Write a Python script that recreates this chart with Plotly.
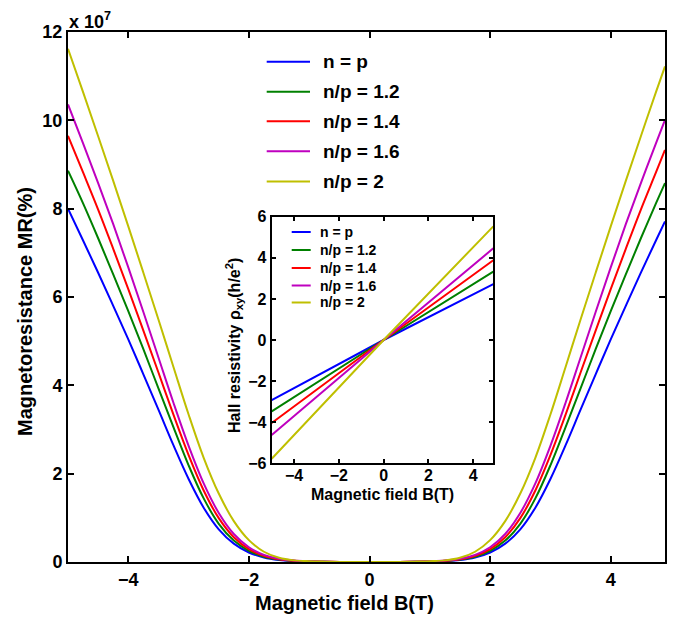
import plotly.graph_objects as go

W, H = 678, 618
ML, MR_, MT, MB = 68, 13, 32, 56

# ---------------- data ----------------
field_B = [-5, -4.75, -4.5, -4.25, -4, -3.75, -3.5, -3.25, -3, -2.75, -2.5, -2.25, -2, -1.75,
           -1.5, -1.25, -1, -0.75, -0.5, -0.25, 0,
           0.25, 0.5, 0.75, 1, 1.25, 1.5, 1.75, 2, 2.25, 2.5, 2.75, 3, 3.25, 3.5, 3.75, 4,
           4.25, 4.5, 4.75, 4.9]
# magnetoresistance, in units of 1e7 %
mr_n_eq_p = [8.0, 7.28, 6.55, 5.8, 5.04, 4.25, 3.45, 2.64, 1.88, 1.23, 0.74, 0.415, 0.215, 0.102,
             0.046, 0.02, 0.01, 0.004, 0.001, 0.0, 0.0,
             0.0, 0.001, 0.004, 0.01, 0.02, 0.046, 0.102, 0.215, 0.415, 0.74, 1.23, 1.88, 2.64,
             3.45, 4.25, 5.04, 5.8, 6.55, 7.28, 7.71]
mr_np_12 = [8.86, 8.12, 7.33, 6.51, 5.68, 4.82, 3.93, 3.05, 2.19, 1.44, 0.865, 0.484, 0.253, 0.12,
            0.054, 0.024, 0.012, 0.005, 0.001, 0.0, 0.0,
            0.0, 0.001, 0.005, 0.012, 0.024, 0.054, 0.12, 0.253, 0.484, 0.865, 1.44, 2.19, 3.05,
            3.93, 4.82, 5.68, 6.51, 7.33, 8.12, 8.58]
mr_np_14 = [9.65, 8.82, 7.98, 7.09, 6.18, 5.24, 4.29, 3.33, 2.42, 1.62, 0.993, 0.562, 0.293, 0.14,
            0.063, 0.028, 0.014, 0.006, 0.001, 0.0, 0.0,
            0.0, 0.001, 0.006, 0.014, 0.028, 0.063, 0.14, 0.293, 0.562, 0.993, 1.62, 2.42, 3.33,
            4.29, 5.24, 6.18, 7.09, 7.98, 8.82, 9.33]
mr_np_16 = [10.36, 9.48, 8.58, 7.65, 6.67, 5.66, 4.63, 3.6, 2.63, 1.78, 1.11, 0.633, 0.333, 0.161,
            0.072, 0.032, 0.016, 0.007, 0.001, 0.0, 0.0,
            0.0, 0.001, 0.007, 0.016, 0.032, 0.072, 0.161, 0.333, 0.633, 1.11, 1.78, 2.63, 3.6,
            4.63, 5.66, 6.67, 7.65, 8.58, 9.48, 10.01]
mr_np_2 = [11.62, 10.64, 9.64, 8.63, 7.6, 6.55, 5.49, 4.41, 3.34, 2.36, 1.55, 0.926, 0.495, 0.232,
           0.095, 0.037, 0.018, 0.008, 0.002, 0.0, 0.0,
           0.0, 0.002, 0.008, 0.018, 0.037, 0.095, 0.232, 0.495, 0.926, 1.55, 2.36, 3.34, 4.41,
           5.49, 6.55, 7.6, 8.63, 9.64, 10.64, 11.22]

hall_B = [-5, 0, 4.9]
hall_n_eq_p = [-2.92, 0, 2.72]
hall_np_12 = [-3.47, 0, 3.33]
hall_np_14 = [-4.04, 0, 3.88]
hall_np_16 = [-4.62, 0, 4.46]
hall_np_2 = [-5.78, 0, 5.53]

labels = ["n = p", "n/p = 1.2", "n/p = 1.4", "n/p = 1.6", "n/p = 2"]
colors = ["#0000ff", "#008000", "#ff0000", "#bf00bf", "#bfbf00"]
main_x_ticks = [-4, -2, 0, 2, 4]
main_x_ticklabels = ["−4", "−2", "0", "2", "4"]
main_y_ticks = [0, 2, 4, 6, 8, 10, 12]
main_y_ticklabels = ["0", "2", "4", "6", "8", "10", "12"]
inset_x_ticks = [-4, -2, 0, 2, 4]
inset_x_ticklabels = ["−4", "−2", "0", "2", "4"]
inset_y_ticks = [-6, -4, -2, 0, 2, 4, 6]
inset_y_ticklabels = ["−6", "−4", "−2", "0", "2", "4", "6"]

mr_series = [mr_n_eq_p, mr_np_12, mr_np_14, mr_np_16, mr_np_2]
hall_series = [hall_n_eq_p, hall_np_12, hall_np_14, hall_np_16, hall_np_2]

# ---------------- helpers (pixel -> paper) ----------------
PW = W - ML - MR_
PH = H - MT - MB


def px(x):
    return (x - ML) / PW


def py(y):
    return (H - MB - y) / PH


def bold(lst):
    return ["<b>" + s + "</b>" for s in lst]


FONT = "Liberation Sans, Arial, sans-serif"

fig = go.Figure()
for lab, col, ys in zip(labels, colors, mr_series):
    fig.add_trace(go.Scatter(x=field_B, y=ys, mode="lines", name=lab,
                             line=dict(color=col, width=2, shape="spline", smoothing=1),
                             showlegend=False, xaxis="x", yaxis="y"))
for lab, col, ys in zip(labels, colors, hall_series):
    fig.add_trace(go.Scatter(x=hall_B, y=ys, mode="lines", name=lab,
                             line=dict(color=col, width=2),
                             showlegend=False, xaxis="x2", yaxis="y2"))

axis_common = dict(showgrid=False, zeroline=False, showline=True, linecolor="black",
                   linewidth=2, ticks="inside", mirror="ticks", tickcolor="black",
                   tickwidth=1.5, tickmode="array")

ins_x0, ins_x1 = px(271.7), px(493.3)
ins_y0, ins_y1 = py(463.3), py(216.7)

fig.update_layout(
    width=W, height=H,
    margin=dict(l=ML, r=MR_, t=MT, b=MB, autoexpand=False),
    paper_bgcolor="white", plot_bgcolor="white",
    font=dict(family=FONT, color="black"),
    xaxis=dict(domain=[0, 1], range=[-5, 4.9], tickvals=main_x_ticks,
               ticktext=bold(main_x_ticklabels), ticklen=6,
               tickfont=dict(size=18, family=FONT, color="black", weight="bold"),
               anchor="y", **axis_common),
    yaxis=dict(domain=[0, 1], range=[0, 12], tickvals=main_y_ticks,
               ticktext=bold(main_y_ticklabels), ticklen=6,
               tickfont=dict(size=18, family=FONT, color="black", weight="bold"),
               anchor="x", **axis_common),
    xaxis2=dict(domain=[ins_x0, ins_x1], range=[-5, 4.9], tickvals=inset_x_ticks,
                ticktext=bold(inset_x_ticklabels), ticklen=4, ticklabelstandoff=-4,
                tickfont=dict(size=16, family=FONT, color="black", weight="bold"),
                anchor="y2", **axis_common),
    yaxis2=dict(domain=[ins_y0, ins_y1], range=[-6, 6], tickvals=inset_y_ticks,
                ticktext=bold(inset_y_ticklabels), ticklen=4,
                tickfont=dict(size=16, family=FONT, color="black", weight="bold"),
                anchor="x2", **axis_common),
)

shapes = []
annotations = []
# main legend
main_leg_y = [61.7, 91.7, 121.3, 151.3, 181.5]
for lab, col, yy in zip(labels, colors, main_leg_y):
    shapes.append(dict(type="line", xref="paper", yref="paper",
                       x0=px(266.7), x1=px(310), y0=py(yy), y1=py(yy),
                       line=dict(color=col, width=2)))
    annotations.append(dict(xref="paper", yref="paper", x=px(321), y=py(yy),
                            text="<b>" + lab + "</b>", showarrow=False,
                            xanchor="left", yanchor="middle",
                            font=dict(size=19, family=FONT, color="black")))
# inset legend
ins_leg_y = [232, 250, 268, 285.5, 302.5]
for lab, col, yy in zip(labels, colors, ins_leg_y):
    shapes.append(dict(type="line", xref="paper", yref="paper",
                       x0=px(291.7), x1=px(310.7), y0=py(yy), y1=py(yy),
                       line=dict(color=col, width=2)))
    annotations.append(dict(xref="paper", yref="paper", x=px(318), y=py(yy),
                            text="<b>" + lab + "</b>", showarrow=False,
                            xanchor="left", yanchor="middle",
                            font=dict(size=14, family=FONT, color="black")))
# exponent label
annotations.append(dict(xref="paper", yref="paper", x=px(67), y=py(21),
                        text="<b>x 10<sup>7</sup></b>", showarrow=False,
                        xanchor="left", yanchor="middle",
                        font=dict(size=18, family=FONT, color="black")))
# axis titles
annotations.append(dict(xref="paper", yref="paper", x=px(344), y=py(603),
                        text="<b>Magnetic field B(T)</b>", showarrow=False,
                        xanchor="center", yanchor="middle",
                        font=dict(size=20, family=FONT, color="black")))
annotations.append(dict(xref="paper", yref="paper", x=px(25), y=py(312),
                        text="<b>Magnetoresistance MR(%)</b>", showarrow=False,
                        textangle=-90, xanchor="center", yanchor="middle",
                        font=dict(size=20, family=FONT, color="black")))
annotations.append(dict(xref="paper", yref="paper", x=px(382), y=py(494),
                        text="<b>Magnetic field B(T)</b>", showarrow=False,
                        xanchor="center", yanchor="middle",
                        font=dict(size=16, family=FONT, color="black")))
annotations.append(dict(xref="paper", yref="paper", x=px(234), y=py(346),
                        text="<b>Hall resistivity ρ<sub>xy</sub>(h/e<sup>2</sup>)</b>",
                        showarrow=False, textangle=-90, xanchor="center", yanchor="middle",
                        font=dict(size=16, family=FONT, color="black")))

fig.update_layout(shapes=shapes, annotations=annotations)
fig.write_html("out.html")
